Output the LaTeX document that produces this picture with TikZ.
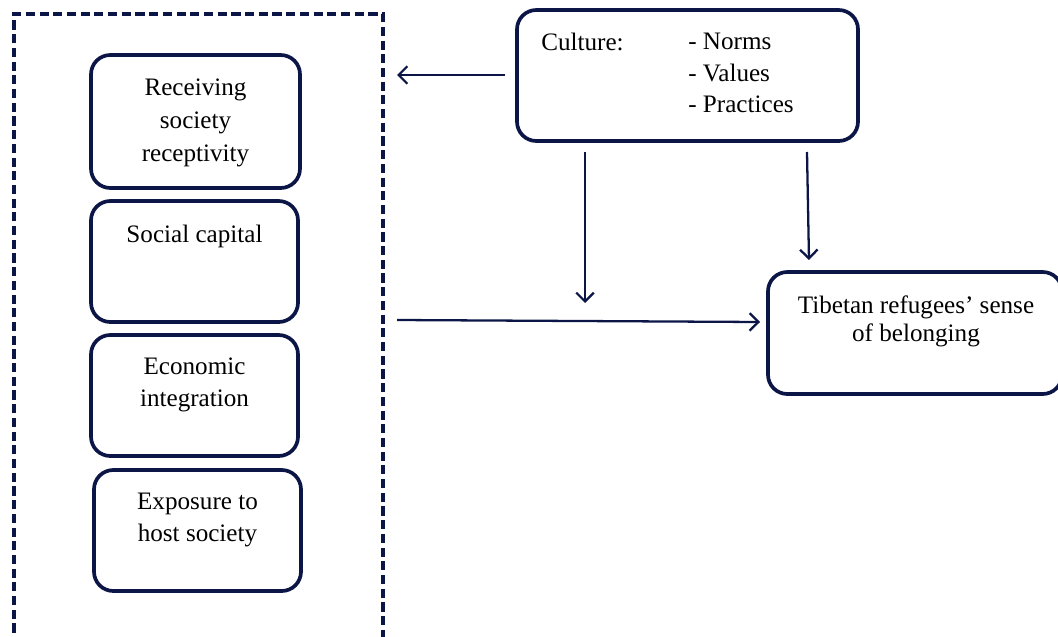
\documentclass[tikz,border=0pt]{standalone}
\usepackage{fontspec}
\setmainfont{Liberation Serif}
\usetikzlibrary{arrows.meta}
\definecolor{navy}{RGB}{12,22,70}
\begin{document}
\begin{tikzpicture}[x=0.02cm,y=-0.02cm,
  rbox/.style={draw=navy,line width=2.1pt,rounded corners=11pt,fill=white,inner sep=0pt},
  txt/.style={font=\fontsize{14.3}{18.6}\selectfont,align=center,inner sep=0pt,text=black},
  arr/.style={draw=navy,line width=1.3pt,-{Straight Barb[length=5pt,width=10pt,line width=1.3pt]}},
  dbox/.style={draw=navy,line width=2.1pt,dash pattern=on 5.2pt off 2.6pt}]
\useasboundingbox (0,0) rectangle (1058,636);
\begin{scope}
\clip (0,0) rectangle (1058,636);
\draw[dbox] (14,660) -- (14,14) -- (383,14) -- (383,660);
% left boxes
\node[rbox,minimum width=209*0.02cm,minimum height=133*0.02cm] (b1) at (195.5,121.5) {};
\node[txt] at (195.5,123) {Receiving\\society\\receptivity};
\node[rbox,minimum width=207*0.02cm,minimum height=121*0.02cm] (b2) at (194.5,261.5) {};
\node[txt] at (194.5,236) {Social capital};
\node[rbox,minimum width=207*0.02cm,minimum height=121*0.02cm] (b3) at (194.5,395.5) {};
\node[txt] at (194.5,385) {Economic\\integration};
\node[rbox,minimum width=207*0.02cm,minimum height=121*0.02cm] (b4) at (197.5,530.5) {};
\node[txt] at (197.5,520) {Exposure to\\host society};
% culture box
\node[rbox,minimum width=341*0.02cm,minimum height=131*0.02cm] (cul) at (687.5,75.5) {};
\node[txt,anchor=west] (cl) at (541,42) {Culture:};
\node[txt,anchor=west,align=left,font=\fontsize{14.3}{18.1}\selectfont] (cv) at (688,73) {- Norms\\- Values\\- Practices};
% outcome box
\node[rbox,minimum width=294*0.02cm,minimum height=122*0.02cm] (tib) at (915,333) {};
\node[txt,font=\fontsize{14.3}{15.9}\selectfont] at (916,321) {Tibetan refugees’ sense\\of belonging};
% arrows
\coordinate (a1s) at (505,75);
\coordinate (a1e) at (397,75);
\coordinate (a2s) at (585,152);
\coordinate (a2e) at (585,303);
\coordinate (a3s) at (807,152);
\coordinate (a3e) at (809,260);
\coordinate (a4s) at (397,320);
\coordinate (a4e) at (760,322);
\draw[arr] (a1s) -- (a1e);
\draw[arr] (a2s) -- (a2e);
\draw[arr] (a3s) -- (a3e);
\draw[arr] (a4s) -- (a4e);
\end{scope}
\end{tikzpicture}
\end{document}
